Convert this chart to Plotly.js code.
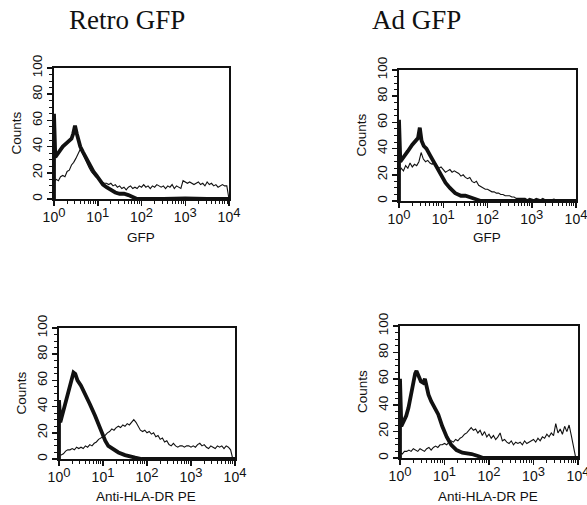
<!DOCTYPE html>
<html><head><meta charset="utf-8">
<script src="https://cdn.plot.ly/plotly-3.0.1.min.js"></script>
<style>html,body{margin:0;padding:0;background:#fff}#chart{width:587px;height:505px}</style>
</head><body><div id="chart"></div>
<script>
// x positions in decades (log10 of fluorescence), shared by the thin histograms
const logBins = [0,0.05,0.1,0.15,0.2,0.25,0.3,0.35,0.4,0.45,0.5,0.55,0.6,0.65,0.7,0.75,0.8,0.85,0.9,0.95,
  1,1.05,1.1,1.15,1.2,1.25,1.3,1.35,1.4,1.45,1.5,1.55,1.6,1.65,1.7,1.75,1.8,1.85,1.9,1.95,
  2,2.05,2.1,2.15,2.2,2.25,2.3,2.35,2.4,2.45,2.5,2.55,2.6,2.65,2.7,2.75,2.8,2.85,2.9,2.95,
  3,3.05,3.1,3.15,3.2,3.25,3.3,3.35,3.4,3.45,3.5,3.55,3.6,3.65,3.7,3.75,3.8,3.85,3.9,3.95,4];

const panelTitles = ["Retro GFP", "Ad GFP"];
const xTitles = ["GFP", "GFP", "Anti-HLA-DR PE", "Anti-HLA-DR PE"];
const yTitle = "Counts";
const yTickVals = [0, 20, 40, 60, 80, 100];
const xTickVals = [1, 10, 100, 1000, 10000];
const xTickExp = ["0", "1", "2", "3", "4"];

// Retro GFP – GFP channel
const retroGfpThickX = [0,0,0.03,0.1,0.2,0.3,0.35,0.4,0.44,0.48,0.52,0.56,0.6,0.66,0.75,0.82,0.9,0.97,1.05,1.12,1.2,1.3,1.4,1.5,1.6,1.7,1.8,1.9,2.5,3,3.5,4];
const retroGfpThickY = [0,65,32,35,40,43,45,46,50,56,50,45,40,36,30,25,21,18,14,11,9,7,5,4,4,3,1.5,0,0,0.5,0,0];
const retroGfpThinY = [13,15,14,17,18,17,21,22,26,28,31,34,38,35,31,27,24,21,19,17,
  16,14,13,12,12,11,12,10,11,9,10,8,9,7,9,10,8,9,8,10,
  9,11,9,10,8,10,9,11,10,9,10,8,10,9,11,8,10,9,8,14,
  13,12,13,12,11,12,13,11,12,10,13,11,12,10,11,9,10,11,10,10,0];

// Ad GFP – GFP channel
const adGfpThickX = [0,0,0.03,0.1,0.2,0.3,0.38,0.43,0.47,0.51,0.56,0.62,0.7,0.8,0.9,1,1.05,1.15,1.27,1.4,1.5,1.64,1.75,1.85,2.5,3,4];
const adGfpThickY = [0,62,30,33,38,43,46,48,56,46,42,40,35,29,22,16,14,10,6,4,4,2.5,1.5,0,0,0,0];
const adGfpThinY = [22,25,23,27,25,29,26,28,27,30,37,32,30,31,29,28,30,27,25,26,
  24,22,23,24,22,23,22,21,19,20,18,17,18,15,14,15,12,11,10,9,
  9,8,7,7,6,6,5,5,4,4,4,3,3,2,2,2,1.5,2,1,2,
  1.5,1,2,1.5,1,2,1,1,0.5,1,1.5,1,0.5,1,1,0.5,1,0.5,1,1,0];

// Retro GFP – Anti-HLA-DR PE channel
const retroHlaThickX = [0,0,0.03,0.06,0.1,0.17,0.23,0.29,0.33,0.37,0.42,0.5,0.59,0.7,0.82,0.9,0.97,1.05,1.12,1.2,1.35,1.5,1.6,1.73,1.88,2.5,3,4];
const retroHlaThickY = [0,45,28,32,38,47,55,62,66,65,60,56,50,42,33,26,19,14,10,8,5,3,2,1,0,0,0,0];
const retroHlaThinY = [3,3,4,6,7,7,8,7,9,8,9,8,10,9,11,10,12,13,15,16,
  17,18,20,21,23,22,24,25,24,26,25,27,26,28,30,28,25,22,21,22,
  20,21,19,20,17,18,15,16,13,14,11,10,12,10,9,10,10,9,10,10,
  9,10,9,11,12,10,11,9,8,10,9,8,10,9,10,8,10,9,7,0,0];

// Ad GFP – Anti-HLA-DR PE channel
const adHlaThickX = [0,0,0.03,0.08,0.14,0.19,0.25,0.3,0.34,0.37,0.42,0.47,0.52,0.56,0.6,0.64,0.7,0.78,0.86,0.95,1.05,1.15,1.27,1.4,1.5,1.61,1.75,1.87,2.5,3,4];
const adHlaThickY = [0,60,24,28,32,38,50,59,64,66,62,58,57,60,54,48,43,38,33,24,16,10,6,4,3.5,3,1.5,0,0,0,0];
const adHlaThinY = [4,3,5,5,6,5,7,6,5,7,6,5,7,8,6,8,9,8,10,10,
  11,10,12,13,12,14,13,15,16,18,19,21,23,21,22,19,21,17,20,16,
  18,15,17,14,16,19,13,14,12,11,13,10,12,11,12,10,13,11,12,13,
  14,12,15,13,16,15,18,16,19,17,26,19,22,18,24,20,25,17,8,0,0];

const toLin = a => a.map(v => Math.pow(10, v));
const xTickText = xTickExp.map(e => "10<sup><span style='font-size:13px'>" + e + "</span></sup>");
const W = 587, H = 505;
const px = v => v / W, py = v => 1 - v / H;

// plot boxes in pixels: [left, right, top, bottom]
const boxes = [[54,229,68,199],[399,576,70,201],[59,235,328,459],[400,578,326,458]];
const thick = [[retroGfpThickX,retroGfpThickY],[adGfpThickX,adGfpThickY],[retroHlaThickX,retroHlaThickY],[adHlaThickX,adHlaThickY]];
const thin = [retroGfpThinY, adGfpThinY, retroHlaThinY, adHlaThinY];

const data = [];
const layout = {
  width: W, height: H, margin: {l:0,r:0,t:0,b:0},
  paper_bgcolor: '#fff', plot_bgcolor: '#fff', showlegend: false,
  font: {family: 'Liberation Sans, Arial, sans-serif', color: '#111'},
  annotations: []
};

boxes.forEach((b, i) => {
  const n = i === 0 ? '' : String(i + 1);
  data.push({x: toLin(logBins), y: thin[i], xaxis: 'x' + n, yaxis: 'y' + n, type: 'scatter', mode: 'lines',
    line: {color: '#111', width: 1.1}, hoverinfo: 'skip'});
  data.push({x: toLin(thick[i][0]), y: thick[i][1], xaxis: 'x' + n, yaxis: 'y' + n, type: 'scatter', mode: 'lines',
    line: {color: '#111', width: 3.8}, hoverinfo: 'skip'});
  layout['xaxis' + n] = {
    type: 'log', range: [0, 4], domain: [px(b[0]), px(b[1])], anchor: 'y' + n,
    tickvals: xTickVals, ticktext: xTickText, ticklabeloverflow: 'allow',
    showgrid: false, zeroline: false,
    showline: true, mirror: true, linecolor: '#111', linewidth: 1.6,
    ticks: 'outside', ticklen: 5, tickwidth: 1.5, tickcolor: '#111',
    tickfont: {size: 14, color: '#111'},
    minor: {ticks: 'outside', ticklen: 3, tickwidth: 1, tickcolor: '#111', dtick: 'D1', showgrid: false},
    fixedrange: true
  };
  layout['yaxis' + n] = {
    range: [0, 100], domain: [py(b[3]), py(b[2])], anchor: 'x' + n,
    tickvals: yTickVals, tickangle: -90, showgrid: false, zeroline: false,
    showline: true, mirror: true, linecolor: '#111', linewidth: 1.6,
    ticks: 'outside', ticklen: 5, tickwidth: 1.5, tickcolor: '#111',
    tickfont: {size: 13.5, color: '#111'},
    minor: {ticks: 'outside', ticklen: 3, tickwidth: 1, tickcolor: '#111', dtick: 5, showgrid: false},
    fixedrange: true
  };
  // axis titles
  layout.annotations.push({text: yTitle, xref: 'paper', yref: 'paper', x: px(b[0] - 38), y: py((b[2] + b[3]) / 2),
    xanchor: 'center', yanchor: 'middle', textangle: -90, showarrow: false, font: {size: 13.5, color: '#111'}});
  layout.annotations.push({text: xTitles[i], xref: 'paper', yref: 'paper', x: px((b[0] + b[1]) / 2 - 1),
    y: py(i < 2 ? 237 : 496), xanchor: 'center', yanchor: 'middle', showarrow: false, font: {size: 13.5, color: '#111'}});
});

layout.annotations.push({text: panelTitles[0], xref: 'paper', yref: 'paper', x: px(127), y: py(20),
  xanchor: 'center', yanchor: 'middle', showarrow: false, font: {family: 'Liberation Serif, Times New Roman, serif', size: 27, color: '#111'}});
layout.annotations.push({text: panelTitles[1], xref: 'paper', yref: 'paper', x: px(416), y: py(20),
  xanchor: 'center', yanchor: 'middle', showarrow: false, font: {family: 'Liberation Serif, Times New Roman, serif', size: 27, color: '#111'}});

Plotly.newPlot('chart', data, layout, {staticPlot: true, displayModeBar: false});
</script></body></html>
